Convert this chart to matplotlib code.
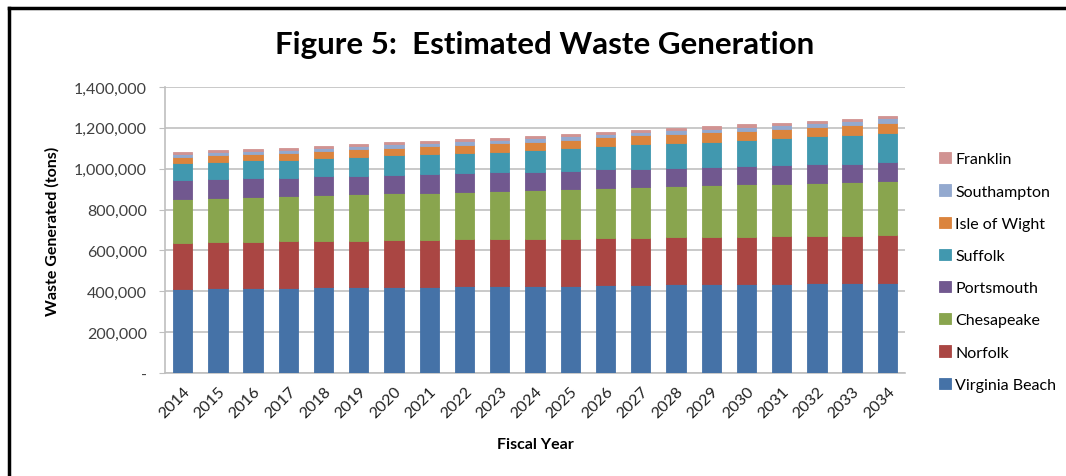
import numpy as np
import matplotlib
matplotlib.use("Agg")
import matplotlib.pyplot as plt
from matplotlib.ticker import FuncFormatter
from matplotlib.lines import Line2D

plt.rcParams['font.family'] = ['Lato', 'DejaVu Sans']

years = [str(y) for y in range(2014, 2035)]

# tons per year
virginia_beach = [411000, 414000, 416000, 417000, 420000, 420000, 422000, 423000, 425000, 426000, 427000,
                  428000, 430000, 432000, 434000, 435000, 436000, 437000, 439000, 440000, 441000]
norfolk = [227000, 226000, 227000, 227000, 228000, 228000, 228000, 229000, 229000, 230000, 230000,
           230000, 231000, 231000, 231000, 231000, 232000, 232000, 232000, 233000, 233000]
chesapeake = [214000, 217000, 219000, 221000, 223000, 226000, 229000, 231000, 233000, 235000, 238000,
              242000, 245000, 247000, 249000, 252000, 255000, 257000, 260000, 262000, 268000]
portsmouth = [92000, 92000, 91000, 91000, 91000, 91000, 91000, 91000, 91000, 91000, 91000,
              91000, 91000, 91000, 91000, 91000, 91000, 91000, 91000, 90000, 89000]
suffolk = [83000, 83000, 88000, 86000, 91000, 93000, 96000, 98000, 100000, 102000, 105000,
           109000, 113000, 118000, 119000, 123000, 126000, 131000, 136000, 139000, 142000]
isle_of_wight = [30000, 33000, 32000, 35000, 35000, 37000, 36000, 38000, 40000, 40000, 42000,
                 42000, 44000, 44000, 46000, 46000, 47000, 47000, 48000, 49000, 52000]
southampton = [16000, 15000, 15000, 16000, 15000, 16000, 17000, 16000, 17000, 17000, 18000,
               17000, 17000, 18000, 18000, 18000, 19000, 19000, 19000, 20000, 21000]
franklin = [10000, 10000, 10000, 10000, 10000, 10000, 10000, 10000, 10000, 10000, 10000,
            10000, 10000, 10000, 10000, 11000, 11000, 11000, 11000, 11000, 11000]

series = [
    ("Virginia Beach", virginia_beach, "#4572A7"),
    ("Norfolk", norfolk, "#AA4643"),
    ("Chesapeake", chesapeake, "#89A54E"),
    ("Portsmouth", portsmouth, "#71588F"),
    ("Suffolk", suffolk, "#4198AF"),
    ("Isle of Wight", isle_of_wight, "#DB843D"),
    ("Southampton", southampton, "#93A9CF"),
    ("Franklin", franklin, "#D19392"),
]

fig = plt.figure(figsize=(10.66, 4.77), dpi=100)
ax = fig.add_axes([165 / 1066, 1 - 374 / 477, (905 - 165) / 1066, (374 - 88) / 477])

x = np.arange(len(years))
bottom = np.zeros(len(years))
handles = []
for name, vals, col in series:
    b = ax.bar(x, vals, width=0.55, bottom=bottom, color=col, edgecolor=col, linewidth=0.6,
               label=name, zorder=3)
    bottom += np.array(vals)
    handles.append(b)

ax.set_ylim(0, 1400000)
ax.set_xlim(-0.5, len(years) - 0.5)
ax.set_yticks(np.arange(0, 1400001, 200000))
ax.yaxis.set_major_formatter(FuncFormatter(lambda v, p: "-" if v == 0 else f"{int(v):,}"))
ax.set_xticks(x)
ax.set_xticklabels(years, rotation=45, ha='right', rotation_mode='anchor')
ax.tick_params(axis='y', labelsize=11.5, labelcolor='#404040', length=4, color='#BFBFBF', pad=9)
ax.tick_params(axis='x', labelsize=11.5, labelcolor='#202020', length=0, pad=8)
ax.grid(axis='y', color='#C0C0C0', linewidth=1.2, zorder=0)
for s in ['top', 'right']:
    ax.spines[s].set_visible(False)
ax.spines['left'].set_color('#BFBFBF')
ax.spines['bottom'].set_color('#BFBFBF')
ax.spines['left'].set_linewidth(1.2)
ax.spines['bottom'].set_linewidth(1.2)

ax.set_xlabel("Fiscal Year", fontsize=11.5, fontweight='bold', labelpad=12)
ax.set_ylabel("Waste Generated (tons)", fontsize=11.5, fontweight='bold', labelpad=10)

fig.text(545 / 1066, 1 - 45 / 477, "Figure 5:  Estimated Waste Generation", fontsize=22.5,
         fontweight='bold', ha='center', va='center')

leg = fig.legend(handles[::-1], [s[0] for s in series][::-1], loc='center left',
                 bbox_to_anchor=(925 / 1066, 1 - 273 / 477), frameon=False, fontsize=11.5,
                 handlelength=0.7, handleheight=0.7, handletextpad=0.3, labelspacing=1.13)

# black frame lines of the screenshot (top and left)
fig.add_artist(Line2D([9 / 1066, 1], [1 - 9 / 477, 1 - 9 / 477], color='black', linewidth=2.5,
                      transform=fig.transFigure))
fig.add_artist(Line2D([9 / 1066, 9 / 1066], [0, 1 - 9 / 477], color='black', linewidth=2.5,
                      transform=fig.transFigure))

fig.savefig("out.png", dpi=100)
